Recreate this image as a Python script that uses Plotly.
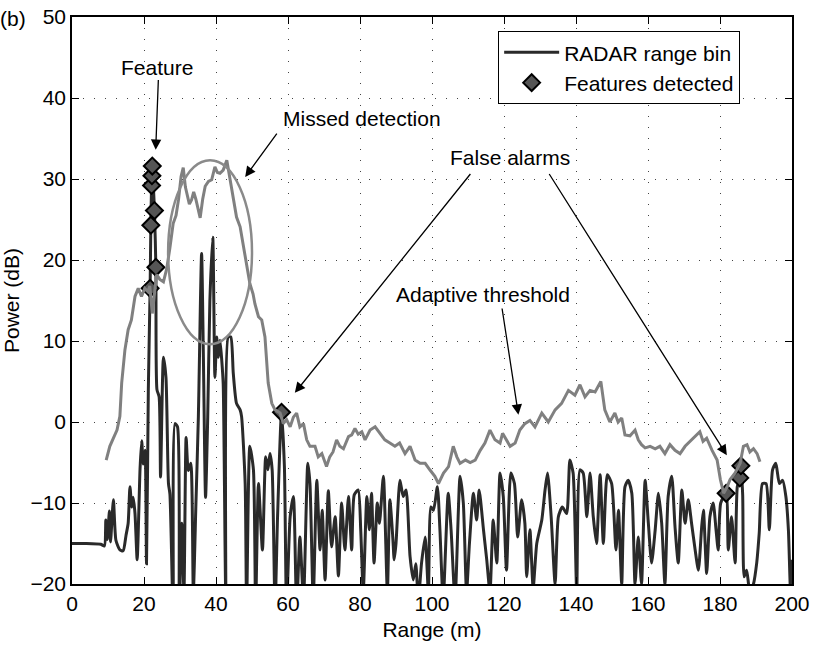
import plotly.graph_objects as go

# RADAR range bin: range (m) and received power (dB)
bin_range = [0, 4, 8, 9.0, 9.4, 9.8, 10.4, 10.7, 11.5, 12.2, 13.3, 14.2, 15.0, 15.6, 16.1, 16.6,
             17.0, 17.5, 18.1, 18.9, 19.35, 19.8, 20.3, 20.7, 21.2, 21.7, 21.9, 22.1, 22.2, 22.3,
             22.9, 23.3, 23.6, 24.2, 24.6, 25.4, 26.1, 26.8, 27.2, 28.1, 28.6, 29.3, 29.8, 30.5,
             31.1, 31.7, 32.3, 33.0, 33.7, 34.4, 35.1, 36.0, 36.5, 37.1, 37.7, 38.3, 39.1, 39.7,
             40.2, 40.6, 41.1, 41.6, 42.0, 42.7, 43.4, 44.1, 44.8, 45.7, 46.7, 47.1, 48.1, 48.5,
             49.4, 50.4, 51.0, 51.8, 52.9, 53.8, 54.4, 55.0, 55.6, 56.4, 57.1, 58.2, 59.0, 59.6,
             60.6, 61.5, 62.4, 63.3, 64.3, 65.5, 66.1, 67.0, 68.0, 68.9, 69.5, 70.3, 71.2, 72.1,
             73.1, 74.0, 74.9, 75.8, 76.8, 77.7, 78.4, 79.5, 80.2, 80.9, 81.9, 82.6, 83.2, 83.9,
             84.8, 85.4, 86.5, 87.6, 88.3, 89.1, 89.5, 90.0, 91.1, 92.0, 92.8, 93.9, 94.8, 95.5,
             96.2, 97.1, 98.1, 99.0, 99.7, 100.4, 101.5, 102.2, 103.1, 104.5, 105.3, 106.4, 107.8,
             108.7, 109.6, 110.4, 111.5, 112.4, 113.1, 114.3, 115.2, 116.1, 117.0, 118.0, 118.9,
             119.8, 120.7, 121.9, 122.9, 123.8, 124.9, 125.8, 126.3, 127.2, 128.1, 129.1, 130.5,
             131.4, 132.1, 133.1, 134.2, 135.1, 136.2, 137.4, 138.3, 139.2, 140.2, 141.1, 142.0,
             143.0, 143.9, 144.8, 145.7, 146.7, 147.6, 148.7, 149.9, 151.1, 151.8, 152.7, 153.6,
             154.5, 155.5, 156.4, 157.3, 158.2, 159.2, 160.1, 161.0, 162.0, 162.9, 163.8, 164.7,
             165.6, 166.6, 167.5, 168.4, 169.4, 170.3, 171.2, 172.1, 173.1, 174.0, 174.9, 175.4,
             176.3, 177.2, 178.1, 178.9, 179.5, 180.2, 181.7, 182.3, 183.2, 184.2, 184.8, 185.5,
             185.8, 186.3, 186.7, 187.4, 188.3, 189.3, 190.2, 190.9, 191.8, 192.8, 193.7, 194.6,
             195.5, 196.5, 197.4, 198.3, 199.0, 199.6, 200.0]
bin_power = [-15.0, -15.0, -15.1, -15.3, -12.1, -14.5, -11.0, -14.8, -9.6, -14.6, -15.8, -15.9,
             -14.0, -12.5, -8.0, -10.5, -9.3, -11.3, -17.0, -5.8, -2.3, -5.2, -3.5, -17.5, 3.9,
             16.5, 24.3, 29.2, 30.4, 31.6, 26.1, 19.1, 4.0, 3.1, -6.8, 8.0, 5.5, -7.6, -8.9, -24.0,
             -0.2, -0.6, -23.0, -12.5, -21.0, -1.9, -6.0, -5.1, -21.0, -10.5, 0.6, 20.8, 8.0, -9.3,
             0.6, 15.0, 22.8, 5.5, 10.5, 8.0, 10.1, 7.6, 4.7, -21.0, 10.5, 10.5, 6.0, 2.3, 1.5,
             0.7, -7.6, -23.0, -3.0, -5.9, -23.0, -7.6, -15.8, -4.3, -5.9, -3.9, -5.9, -23.0,
             -11.7, 1.2, -5.5, -23.0, -11.7, -9.2, -23.0, -14.2, -22.0, -5.1, -7.6, -22.0, -7.2,
             -15.8, -10.9, -19.5, -8.5, -15.4, -11.7, -19.0, -10.0, -15.8, -9.2, -15.8, -9.0, -8.4,
             -13.3, -21.0, -9.2, -13.3, -8.8, -17.4, -10.0, -12.5, -6.7, -21.0, -9.6, -14.2, -17.0,
             -15.0, -7.2, -9.2, -8.4, -16.6, -19.5, -17.5, -22.0, -17.4, -14.2, -21.0, -10.5, -10.9,
             -8.0, -13.3, -22.0, -8.8, -13.3, -22.0, -6.7, -10.0, -21.0, -15.0, -8.8, -12.1, -8.4,
             -13.3, -17.0, -21.0, -12.1, -17.4, -6.3, -9.2, -18.3, -6.3, -7.6, -14.2, -9.6, -12.5,
             -19.1, -13.3, -20.5, -15.0, -12.1, -8.4, -6.3, -11.7, -20.0, -11.7, -10.5, -11.3, -4.7,
             -6.3, -21.0, -5.9, -6.3, -11.7, -6.3, -11.7, -15.0, -6.5, -15.0, -6.5, -7.6, -15.8,
             -10.9, -20.0, -8.0, -7.2, -8.8, -20.0, -14.2, -20.0, -7.2, -12.5, -17.4, -13.3, -8.8,
             -12.5, -20.0, -9.2, -6.7, -12.9, -17.4, -8.4, -12.5, -9.6, -12.5, -15.8, -18.3, -13.0,
             -10.9, -18.7, -11.7, -10.0, -13.3, -15.8, -10.0, -8.8, -15.8, -11.7, -17.4, -8.0,
             -6.9, -5.4, -9.0, -19.1, -18.3, -21.0, -20.0, -17.4, -13.7, -7.6, -7.6, -13.3, -5.9,
             -5.1, -7.6, -7.2, -9.2, -13.3, -21.0, -17.0]

# Adaptive detection threshold
thr_range = [9.5, 10.5, 11.5, 12.5, 13.3, 13.8, 14.7, 15.6, 16.5, 17.5, 18.4, 19.3, 20.2, 21.1,
             21.6, 22.3, 23.5, 24.4, 25.4, 26.3, 27.2, 28.1, 28.9, 29.6, 30.3, 30.9, 31.5, 32.0,
             32.6, 33.2, 33.8, 34.4, 35.0, 35.6, 36.3, 37.0, 37.9, 38.8, 39.7, 40.4, 41.1, 42.0,
             43.0, 43.9, 44.8, 45.7, 46.7, 47.3, 48.0, 49.4, 50.3, 50.8, 51.8, 52.7, 53.6, 54.1,
             54.5, 55.5, 56.4, 57.8, 58.7, 59.6, 60.6, 61.5, 62.4, 63.3, 64.3, 65.2, 66.1, 67.5,
             68.4, 69.4, 70.7, 71.6, 72.5, 73.5, 74.4, 75.4, 76.8, 77.7, 78.6, 79.5, 80.5, 81.4,
             82.8, 84.2, 85.6, 86.9, 88.3, 89.7, 91.0, 92.5, 93.9, 95.3, 96.7, 98.1, 99.4, 100.8,
             101.8, 103.2, 104.6, 105.9, 106.9, 107.8, 109.3, 110.6, 112.0, 113.4, 114.7, 116.1,
             117.5, 118.9, 119.6, 120.3, 121.7, 123.1, 124.4, 125.8, 127.2, 128.6, 130.5, 132.3,
             134.2, 136.0, 137.9, 139.7, 141.1, 142.5, 143.9, 145.3, 146.9, 148.0, 149.4, 150.8,
             151.7, 152.7, 153.6, 155.0, 156.4, 157.3, 158.2, 159.2, 160.6, 162.0, 163.3, 164.7,
             166.1, 167.5, 168.9, 170.3, 171.7, 173.1, 174.4, 175.3, 176.3, 177.8, 179.2, 180.1,
             181.0, 182.0, 182.8, 184.2, 185.6, 186.5, 187.5, 188.3, 189.3, 190.3, 191.1]
thr_power = [-4.7, -3.0, -2.0, -1.0, 0.7, 4.8, 8.9, 11.4, 12.6, 15.5, 16.5, 15.5, 16.5, 16.1,
             16.8, 13.4, 18.2, 17.6, 17.3, 18.9, 21.5, 24.5, 25.5, 27.5, 30.3, 31.4, 29.0, 28.0,
             26.9, 27.4, 28.4, 27.5, 26.3, 25.2, 27.5, 29.1, 29.7, 29.9, 31.5, 30.8, 30.7, 31.1,
             32.3, 29.9, 27.8, 25.3, 24.1, 22.5, 20.4, 17.1, 15.8, 14.6, 13.0, 12.6, 10.5, 7.2,
             4.8, 2.3, 1.5, 1.1, -0.2, 0.3, -0.6, 0.6, 1.1, -0.6, -0.2, -2.2, -3.0, -3.0,
             -4.3, -3.9, -5.5, -4.3, -3.7, -2.2, -3.0, -3.3, -1.8, -1.6, -0.8, -1.5, -1.2, -2.2,
             -1.0, -0.6, -1.5, -2.2, -2.6, -3.0, -2.6, -3.9, -3.0, -4.7, -5.1, -5.1, -5.9, -6.7,
             -7.6, -6.3, -5.5, -3.0, -4.3, -5.1, -4.7, -5.0, -4.7, -3.5, -2.6, -1.0,
             -2.2, -2.6, -1.4, -2.0, -3.0, -2.6, -1.0, -0.2, 0.2, -0.6, 1.1, 0.0,
             1.5, 2.3, 3.9, 3.3, 4.6, 3.1, 3.9, 3.7, 5.0, 1.5, 0.0, 1.1,
             0.0, 0.5, -1.6, -1.7, -1.0, -2.2, -2.8, -3.2, -3.0, -3.3, -3.0, -3.9,
             -2.8, -3.5, -3.9, -3.0, -2.4, -1.8, -1.2, -2.4, -2.0, -3.5, -4.7, -7.1,
             -8.8, -8.0, -7.1, -6.3, -5.1, -3.0, -2.8, -3.7, -3.3, -3.9, -4.9]

# Range bins flagged as features
feat_range = [21.7, 21.9, 22.1, 22.2, 22.3, 22.9, 23.3, 58.2, 181.7, 185.5, 185.8]
feat_power = [16.5, 24.3, 29.2, 30.4, 31.6, 26.1, 19.1, 1.2, -8.8, -6.9, -5.4]

x_ticks = list(range(0, 201, 20))
y_ticks = list(range(-20, 51, 10))

FONT = "Liberation Sans, Arial, Helvetica, sans-serif"
FS = 21

fig = go.Figure()
fig.add_trace(go.Scatter(
    x=bin_range, y=bin_power, mode="lines", name="RADAR range bin",
    line=dict(color="#2a2a2a", width=3, shape="spline", smoothing=0.6)))
fig.add_trace(go.Scatter(
    x=feat_range, y=feat_power, mode="markers", name="Features detected",
    marker=dict(symbol="diamond", size=13, color="#555555",
                line=dict(color="#000000", width=2))))
fig.add_trace(go.Scatter(
    x=thr_range, y=thr_power, mode="lines", name="Adaptive threshold", showlegend=False,
    line=dict(color="#808080", width=3)))

# Ring around the missed target
fig.add_shape(type="circle", xref="x", yref="y", x0=26.7, x1=50.0, y0=9.6, y1=32.3,
              line=dict(color="#8a8a8a", width=2.5))

labels = [
    ("Feature", 23.6, 43.8),
    ("Missed detection", 80.6, 37.5),
    ("False alarms", 121.7, 32.6),
    ("Adaptive threshold", 114.2, 15.7),
]
for txt, lx, ly in labels:
    fig.add_annotation(x=lx, y=ly, xref="x", yref="y", text=txt, showarrow=False,
                       font=dict(family=FONT, size=FS, color="black"))

# Arrows: (tail x, tail y, head x, head y)
arrows = [
    (24.0, 42.4, 23.25, 33.6),
    (57.2, 35.8, 48.1, 30.25),
    (111.0, 30.8, 61.9, 3.6),
    (132.3, 30.8, 181.9, -4.1),
    (119.4, 14.2, 124.0, 0.9),
]
for tx, ty, hx, hy in arrows:
    fig.add_annotation(x=hx, y=hy, ax=tx, ay=ty, xref="x", yref="y", axref="x", ayref="y",
                       text="", showarrow=True, arrowhead=2, arrowsize=1.6,
                       arrowwidth=1.3, arrowcolor="black", standoff=0, startstandoff=0)

# Panel tag
fig.add_annotation(x=-0.082, y=0.998, xref="paper", yref="paper", text="(b)",
                   showarrow=False, xanchor="center", yanchor="middle",
                   font=dict(family=FONT, size=FS, color="black"))

axis_common = dict(showline=True, linecolor="black", linewidth=1.5, mirror="ticks",
                   ticks="inside", ticklen=7, tickwidth=1.2, tickcolor="black",
                   showgrid=True, gridcolor="#444444", gridwidth=1, griddash="1px,10px",
                   zeroline=False, automargin=False,
                   tickfont=dict(family=FONT, size=FS, color="black"))

fig.update_xaxes(range=[0, 200], tickvals=x_ticks, **axis_common,
                 title=dict(text="Range (m)", font=dict(family=FONT, size=FS, color="black"),
                            standoff=8))
fig.update_yaxes(range=[-20, 50], tickvals=y_ticks, **axis_common,
                 title=dict(text="Power (dB)", font=dict(family=FONT, size=FS, color="black"),
                            standoff=8))

fig.update_layout(
    width=815, height=650,
    margin=dict(l=72, r=23, t=17, b=66, autoexpand=False),
    paper_bgcolor="white", plot_bgcolor="white",
    font=dict(family=FONT, size=FS, color="black"),
    showlegend=True,
    legend=dict(x=0.928, y=0.975, xanchor="right", yanchor="top",
                bgcolor="white", bordercolor="black", borderwidth=1,
                font=dict(family=FONT, size=FS, color="black"),
                itemwidth=55, tracegroupgap=0),
    hovermode=False,
)

fig.write_html("out.html")
